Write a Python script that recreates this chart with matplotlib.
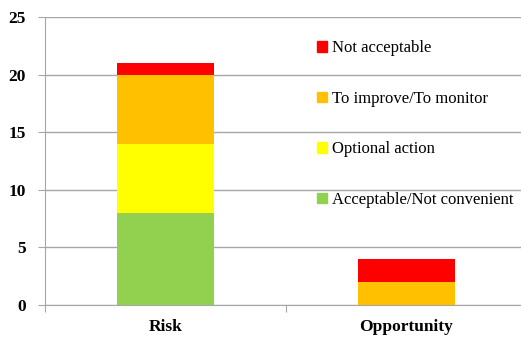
import numpy as np
import matplotlib
matplotlib.use("Agg")
import matplotlib.pyplot as plt
from matplotlib.patches import Patch

plt.rcParams['font.family'] = ['Liberation Serif', 'DejaVu Serif']

categories = ["Risk", "Opportunity"]
series_names = ["Acceptable/Not convenient", "Optional action",
                "To improve/To monitor", "Not acceptable"]
acceptable = [8, 0]
optional = [6, 0]
to_improve = [6, 2]
not_acceptable = [1, 2]
colors = ["#92D050", "#FFFF00", "#FFC000", "#FF0000"]
y_ticks = [0, 5, 10, 15, 20, 25]

fig = plt.figure(figsize=(5.21, 3.39), dpi=100)
# plot area runs slightly past the right edge, like the original
ax = fig.add_axes([45 / 521, 34 / 339, 482 / 521, 288 / 339])

x = np.arange(len(categories))
bottom = np.zeros(len(categories))
for vals, col in zip([acceptable, optional, to_improve, not_acceptable], colors):
    ax.bar(x, vals, 0.4, bottom=bottom, color=col, zorder=3)
    bottom += np.array(vals)

ax.set_xlim(-0.5, 1.5)
ax.set_ylim(0, 25)
ax.set_yticks(y_ticks)
ax.yaxis.grid(True, color="#A6A6A6", linewidth=1.0, zorder=0)
ax.set_axisbelow(True)

ax.set_xticks([-0.5, 0.5, 1.5])
ax.set_xticklabels([])
ax.set_xticks(x, minor=True)
ax.set_xticklabels(categories, minor=True, fontsize=12.5, fontweight="bold")
ax.tick_params(axis="x", which="minor", length=0, pad=10)
ax.tick_params(axis="x", which="major", length=5, color="#A6A6A6")
ax.tick_params(axis="y", length=5, color="#A6A6A6", labelsize=12.5, pad=9)
for lab in ax.get_yticklabels():
    lab.set_fontweight("bold")

for s in ["top", "right"]:
    ax.spines[s].set_visible(False)
for s in ["left", "bottom"]:
    ax.spines[s].set_color("#A6A6A6")

handles = [Patch(color=c) for c in colors][::-1]
ax.legend(handles, series_names[::-1], loc="upper left",
          bbox_to_anchor=(259 / 482, 0.965), frameon=False,
          fontsize=12, handlelength=0.55, handleheight=0.55,
          handletextpad=0.3, labelspacing=2.07, borderpad=0.3)

fig.savefig("out.png", dpi=100)
